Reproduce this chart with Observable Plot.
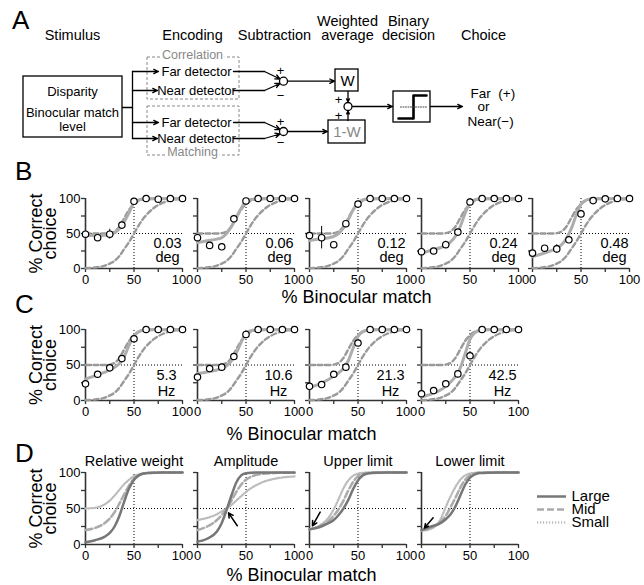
<!DOCTYPE html>
<html><head><meta charset="utf-8">
<script src="https://cdn.jsdelivr.net/npm/d3@7"></script>
<script src="https://cdn.jsdelivr.net/npm/@observablehq/plot@0.6"></script>
<style>
body{margin:0;background:#fff;}
#fig{position:relative;width:644px;height:585px;font-family:"Liberation Sans",Arial,Helvetica,sans-serif;overflow:hidden;background:#fff;}
#fig svg{position:absolute;background:transparent !important;overflow:visible;max-width:none !important;}
.lbl{position:absolute;white-space:nowrap;color:#000;line-height:1;}
</style></head><body><div id="fig"></div>
<script>
// ---------------- DATA ----------------
const obsX = [0, 12.5, 25, 37.5, 50, 62.5, 75, 87.5, 100];
const fitX = [0, 10, 20, 25, 30, 35, 40, 45, 50, 55, 60, 70, 80, 90, 100];
const ticks = [0, 25, 50, 75, 100];

// reference model curves (dashed): correlation-only and matching-only
const corrRef  = [0.5, 1.5, 4, 7, 11, 18, 28, 38, 50, 62, 72, 86, 94, 98, 99.5];
const matchRef = [50, 50, 50, 50.5, 53, 60, 72, 84, 92, 97, 99, 100, 100, 100, 100];

// Panel B: disparity magnitudes
const bLabels = ["0.03", "0.06", "0.12", "0.24", "0.48"];
const bUnit = "deg";
const bObs = [
  [49, 44, 49, 62, 96, 100, 99, 100, 100],
  [44, 33, 31, 71, 96.5, 100, 100, 100, 100],
  [47, 44, 34, 64, 92, 100, 100, 100, 100],
  [24, 25, 34, 52, 95, 100, 100, 100, 100],
  [22, 29, 28, 41, 78, 97, 99.5, 100, 100]
];
const bErr = [
  [0, 2, 7, 4, 0, 0, 0, 0, 0],
  [0, 0, 0, 5, 0, 0, 0, 0, 0],
  [0, 16, 0, 0, 0, 0, 0, 0, 0],
  [0, 0, 5, 2, 0, 0, 0, 0, 0],
  [0, 0, 6, 4, 5, 0, 0, 0, 0]
];
const bFit = [
  [47, 47, 47.5, 48.5, 51, 57, 67, 80, 94, 98, 99.3, 99.7, 99.8, 99.9, 99.9],
  [37, 39.5, 42, 44, 50, 60, 73, 86, 96, 98.5, 99.3, 99.7, 99.8, 99.9, 99.9],
  [40, 42, 44, 46, 50, 58, 70, 84, 94, 98, 99.3, 99.7, 99.8, 99.9, 99.9],
  [22, 26, 30, 33, 38, 46, 60, 79, 94, 98.2, 99.3, 99.7, 99.8, 99.9, 99.9],
  [17, 21, 26, 29, 34, 43, 57, 76, 92, 97.5, 99.2, 99.7, 99.8, 99.9, 99.9]
];

// Panel C: temporal frequencies
const cLabels = ["5.3", "10.6", "21.3", "42.5"];
const cUnit = "Hz";
const cObs = [
  [23.5, 37, 46, 59, 87, 100, 100, 100, 100],
  [33, 45, 47, 62, 93, 100, 100, 100, 100],
  [20, 22.5, 37, 47, 81, 100, 100, 100, 100],
  [9.5, 14, 23.5, 37.5, 63, 100, 100, 100, 100]
];
const cErr = [
  [0, 0, 0, 2, 4, 0, 0, 0, 0],
  [0, 0, 0, 2, 0, 0, 0, 0, 0],
  [0, 0, 0, 0, 0, 0, 0, 0, 0],
  [0, 0, 0, 0, 0, 0, 0, 0, 0]
];
const cFit = [
  [30, 35, 40, 43, 47, 52, 62, 78, 91, 97, 99, 99.7, 99.8, 99.9, 99.9],
  [38, 40, 43, 45, 49, 56, 67, 82, 95, 98.2, 99.3, 99.7, 99.8, 99.9, 99.9],
  [18, 23, 30, 34, 39, 45, 56, 74, 90, 97, 99, 99.7, 99.8, 99.9, 99.9],
  [5, 9, 15, 20, 26, 34, 46, 66, 86, 95.5, 98.7, 99.6, 99.8, 99.9, 99.9]
];

// Panel D: model simulations
const dTitles = ["Relative weight", "Amplitude", "Upper limit", "Lower limit"];
const seriesNames = ["Large", "Mid", "Small"];
const dLarge = [
  [3, 6, 11, 16, 25, 40, 60, 78, 90, 96, 98.5, 99.7, 100, 100, 100],
  [4, 8, 18, 30, 48, 68, 86, 96, 99, 99.8, 100, 100, 100, 100, 100],
  [21, 24, 30, 34, 41, 50, 62, 77, 89, 96, 98.5, 99.7, 100, 100, 100],
  [20, 25, 30, 35, 42, 53, 68, 83, 93, 97.5, 99.2, 99.8, 100, 100, 100]
];
const dMid = [
  [20, 23, 30, 36, 45, 57, 70, 82, 91, 96, 98.5, 99.7, 100, 100, 100],
  [20, 25, 34, 41, 50, 61, 73, 83, 90, 94, 96.5, 98.5, 99.3, 99.6, 99.8],
  [21, 25, 33, 40, 49, 61, 75, 87, 95, 98.3, 99.4, 100, 100, 100, 100],
  [20, 23, 32, 40, 52, 65, 79, 90, 96, 98.8, 99.6, 100, 100, 100, 100]
];
const dSmall = [
  [50, 51, 56, 61, 68, 76, 84, 90, 95, 97.5, 99, 99.8, 100, 100, 100],
  [34, 37, 42, 46, 50, 55, 61, 67, 73, 78, 82, 88, 91.5, 93.5, 94.5],
  [21, 26, 38, 49, 63, 78, 89, 95.5, 98.5, 99.5, 99.9, 100, 100, 100, 100],
  [19, 22, 36, 52, 67, 80, 90, 96, 98.5, 99.5, 99.9, 100, 100, 100, 100]
];
const dArrows = [null, [41, 26, 32, 44], [11, 45, 3, 26], [12, 37, 3, 23]];

// Panel A schematic (diagram units)
const stageLabels = ["Stimulus", "Encoding", "Subtraction", "Weighted\naverage", "Binary\ndecision", "Choice"];
const stageX = [72, 192, 274, 347, 408, 483];
const stimLines = ["Disparity", "Binocular match", "level"];
const stimLineY = [95, 116.7, 130];
const detectorLabels = ["Far detector", "Near detector", "Far detector", "Near detector"];
const detectorY = [71, 90, 122, 138];
const groupLabels = ["Correlation", "Matching"];
const groupLabelY = [54, 151];
const groupBoxes = [[147, 57, 239, 99], [147, 106, 239, 155]];
const solidBoxes = [[23, 76, 122, 137], [335, 69, 358, 91], [328, 120, 365, 143], [393, 91, 430, 122]];
const nodeCircles = [[283, 80.7], [283, 131], [347.5, 106]];
const signs = [["+", 280, 70], ["\u2212", 280, 95], ["+", 280, 121], ["\u2212", 280, 142], ["+", 338, 99], ["+", 338, 115]];
const polylines = [
  [[122, 107], [132, 107]],
  [[132, 71], [132, 138]],
  [[233, 71], [264, 71]], [[233, 90], [264, 90]],
  [[233, 122], [264, 122]], [[233, 138], [264, 138]]
];
const stepLine = [[398, 118], [413, 118], [413, 95], [426, 95]];
const thresholdLine = [[400, 106.5], [426, 106.5]];
const arrowsA = [
  [132, 71, 158, 71], [132, 90, 157, 90], [132, 122, 158, 122], [132, 138, 157, 138],
  [264, 71, 279.5, 78.5], [264, 90, 279.5, 83], [264, 122, 279.5, 129], [264, 138, 279.5, 133.5],
  [287, 80.7, 334, 80.7], [287, 131, 327, 131],
  [347.5, 91, 347.5, 101.5], [347.5, 120, 347.5, 110.5],
  [352, 106, 392, 106], [430, 106, 462, 106]
];
const weightLabels = [["W", 347, 80.5], ["1-W", 346.5, 131.5]];
const choiceLabels = [["Far  (+)", 470, 93], ["or", 477, 106], ["Near(\u2212)", 467, 121]];

// ---------------- RENDER ----------------
const FONT = "Liberation Sans, Arial, Helvetica, sans-serif";
const fig = document.getElementById("fig");
const baseStyle = {fontFamily: FONT, background: "transparent", overflow: "visible", color: "#000"};

function place(svg, left, top) {
  svg.style.left = left + "px";
  svg.style.top = top + "px";
  fig.appendChild(svg);
}
function htmlLabel(text, left, top, size, centered) {
  const d = document.createElement("div");
  d.className = "lbl";
  d.textContent = text;
  d.style.left = left + "px";
  d.style.top = top + "px";
  d.style.fontSize = size + "px";
  if (centered) d.style.transform = "translateX(-50%)";
  fig.appendChild(d);
}

// Panel A
{
  const rows = (pts, id) => pts.map(([x, y]) => ({id, x, y}));
  const poly = polylines.flatMap((p, i) => rows(p, i));
  const svg = Plot.plot({
    width: 644, height: 165, margin: 0,
    style: baseStyle,
    x: {domain: [0, 644], range: [0, 644], axis: null},
    y: {domain: [0, 165], range: [0, 165], axis: null},
    marks: [
      Plot.rect(groupBoxes, {x1: d => d[0], y1: d => d[1], x2: d => d[2], y2: d => d[3], fill: "none", stroke: "#888", strokeWidth: 1, strokeDasharray: "3,2"}),
      Plot.text(groupLabels, {x: 192, y: (d, i) => groupLabelY[i], text: d => d, fill: "#888", stroke: "white", strokeWidth: 5, fontSize: 12.5}),
      Plot.rect(solidBoxes, {x1: d => d[0], y1: d => d[1], x2: d => d[2], y2: d => d[3], fill: "white", stroke: "#000", strokeWidth: 1.3}),
      Plot.line(poly, {x: "x", y: "y", z: "id", stroke: "#000", strokeWidth: 1.3}),
      Plot.line(rows(stepLine, 0), {x: "x", y: "y", stroke: "#000", strokeWidth: 2.6}),
      Plot.line(rows(thresholdLine, 0), {x: "x", y: "y", stroke: "#444", strokeWidth: 1, strokeDasharray: "1,1.5"}),
      Plot.arrow(arrowsA, {x1: d => d[0], y1: d => d[1], x2: d => d[2], y2: d => d[3], stroke: "#000", strokeWidth: 1.3, headLength: 6, headAngle: 50}),
      Plot.dot(nodeCircles, {x: d => d[0], y: d => d[1], r: 4, fill: "white", stroke: "#000", strokeWidth: 1.3}),
      Plot.text(stageLabels, {x: (d, i) => stageX[i], y: 39, text: d => d, lineAnchor: "bottom", lineHeight: 0.9, fontSize: 14.5}),
      Plot.text(stimLines, {x: 72, y: (d, i) => stimLineY[i], text: d => d, lineAnchor: "bottom", fontSize: 13}),
      Plot.text(detectorLabels, {x: 196, y: (d, i) => detectorY[i], text: d => d, fontSize: 13}),
      Plot.text(signs, {x: d => d[1], y: d => d[2], text: d => d[0], fontSize: 13}),
      Plot.text(weightLabels, {x: d => d[1], y: d => d[2], text: d => d[0], fontSize: 15, fill: (d, i) => i === 0 ? "#000" : "#888"}),
      Plot.text(choiceLabels, {x: d => d[1], y: d => d[2], text: d => d[0], textAnchor: "start", fontSize: 13.5})
    ]
  });
  place(svg, 0, 0);
}

// Layout of the small-multiple rows
const colX0 = [85, 197, 308.5, 420.5, 532];
const innerW = 97;
const ML = 60, MR = 25, MT = 30, MB = 30;

function axesMarks(yLabels) {
  return [
    Plot.axisX({ticks, tickFormat: d => d % 50 === 0 ? String(d) : "", tickSize: 4, tickPadding: 2, fontSize: 13, stroke: "#333", strokeWidth: 1.3, label: null}),
    Plot.axisY({ticks, tickFormat: yLabels ? (d => d % 50 === 0 ? String(d) : "") : (() => ""), tickSize: 4, tickPadding: 1, fontSize: 13, stroke: "#333", strokeWidth: 1.3, label: null}),
    Plot.ruleX([0], {y1: 0, y2: 100, stroke: "#333", strokeWidth: 1.6}),
    Plot.ruleY([0], {x1: 0, x2: 100, stroke: "#333", strokeWidth: 1.6}),
    Plot.ruleY([50], {x1: 0, x2: 100, stroke: "#000", strokeWidth: 1, strokeDasharray: "1,2"}),
    Plot.ruleX([50], {y1: 0, y2: 100, stroke: "#000", strokeWidth: 1, strokeDasharray: "1,2"})
  ];
}
function yTitle() {
  return Plot.text(["% Correct\nchoice"], {text: d => d, frameAnchor: "left", rotate: -90, dx: -41, fontSize: 18, lineHeight: 0.75, lineAnchor: "middle", textAnchor: "middle"});
}
function makePlot(h, marks) {
  return Plot.plot({
    width: ML + innerW + MR, height: MT + h + MB,
    marginLeft: ML, marginRight: MR, marginTop: MT, marginBottom: MB,
    style: baseStyle,
    x: {domain: [0, 100], axis: null, label: null},
    y: {domain: [0, 100], axis: null, label: null},
    marks
  });
}

function dataRow(obs, err, fit, note, unit, col, top, h, noteDx, noteDy, noteLH, noteSize) {
  const refRows = [
    ...fitX.map((x, i) => ({ref: "corr", x, y: corrRef[i]})),
    ...fitX.map((x, i) => ({ref: "match", x, y: matchRef[i]}))
  ];
  const fitRows = fitX.map((x, i) => ({x, y: fit[i]}));
  const obsRows = obsX.map((x, i) => ({x, y: obs[i], e: err[i]}));
  const marks = [
    ...axesMarks(col === 0),
    Plot.line(refRows, {x: "x", y: "y", z: "ref", stroke: "#9a9a9a", strokeWidth: 2.4, strokeDasharray: "5,3", curve: "monotone-x"}),
    Plot.line(fitRows, {x: "x", y: "y", stroke: "#adadad", strokeWidth: 3, curve: "monotone-x"}),
    Plot.ruleX(obsRows.filter(d => d.e > 0), {x: "x", y1: d => d.y - d.e, y2: d => d.y + d.e, stroke: "#000", strokeWidth: 1}),
    Plot.dot(obsRows, {x: "x", y: "y", r: 3.2, fill: "white", stroke: "#000", strokeWidth: 1.2}),
    Plot.text([note + "\n" + unit], {text: d => d, frameAnchor: "bottom-right", dx: noteDx, dy: noteDy, lineAnchor: "bottom", textAnchor: "middle", fontSize: noteSize, lineHeight: noteLH})
  ];
  if (col === 0) marks.push(yTitle());
  place(makePlot(h, marks), colX0[col] - ML, top - MT);
}

bLabels.forEach((lab, i) => dataRow(bObs[i], bErr[i], bFit[i], lab, bUnit, i, 198, 70, -15, -7, 0.9, 14.5));
cLabels.forEach((lab, i) => dataRow(cObs[i], cErr[i], cFit[i], lab, cUnit, i, 329, 71, -16, -5, 1.05, 14.5));

const seriesStyle = {
  Large: {stroke: "#777", strokeDasharray: null, width: 2.5},
  Mid: {stroke: "#ababab", strokeDasharray: "7,3", width: 2.5},
  Small: {stroke: "#bdbdbd", strokeDasharray: "1.2,1.8", width: 2.3}
};
dTitles.forEach((title, i) => {
  const series = {Large: dLarge[i], Mid: dMid[i], Small: dSmall[i]};
  const marks = [...axesMarks(i === 0)];
  ["Small", "Mid", "Large"].forEach(name => {
    const rows = fitX.map((x, k) => ({x, y: series[name][k]}));
    const st = seriesStyle[name];
    marks.push(Plot.line(rows, {x: "x", y: "y", stroke: st.stroke, strokeWidth: st.width, strokeDasharray: st.strokeDasharray || undefined, curve: "monotone-x"}));
  });
  if (dArrows[i]) {
    marks.push(Plot.arrow([dArrows[i]], {x1: d => d[0], y1: d => d[1], x2: d => d[2], y2: d => d[3], stroke: "#000", strokeWidth: 1.5, headLength: 6, headAngle: 55}));
  }
  marks.push(Plot.text([title], {text: d => d, frameAnchor: "top", dy: -7, lineAnchor: "bottom", fontSize: 14.5}));
  if (i === 0) marks.push(yTitle());
  place(makePlot(72, marks), colX0[i] - ML, 472 - MT);
});

// Legend for panel D
{
  const svg = Plot.plot({
    width: 120, height: 60, margin: 0,
    style: baseStyle,
    x: {domain: [0, 1], range: [0, 29], axis: null},
    y: {type: "point", domain: seriesNames, range: [10, 49], axis: null},
    marks: [
      ...seriesNames.map(name => Plot.ruleY([name], {x1: 0, x2: 1, stroke: seriesStyle[name].stroke, strokeWidth: seriesStyle[name].width, strokeDasharray: seriesStyle[name].strokeDasharray || undefined})),
      Plot.text(seriesNames, {x: 1, y: d => d, text: d => d, textAnchor: "start", dx: 5, fontSize: 15})
    ]
  });
  place(svg, 537, 479);
}

// Panel letters and shared x-axis titles
htmlLabel("A", 12, 7, 26);
htmlLabel("B", 15, 158, 26);
htmlLabel("C", 15, 291, 26);
htmlLabel("D", 15, 440, 26);
htmlLabel("% Binocular match", 356.5, 288, 18, true);
htmlLabel("% Binocular match", 301.5, 425, 18, true);
htmlLabel("% Binocular match", 301.5, 566, 18, true);
</script>
</body></html>
